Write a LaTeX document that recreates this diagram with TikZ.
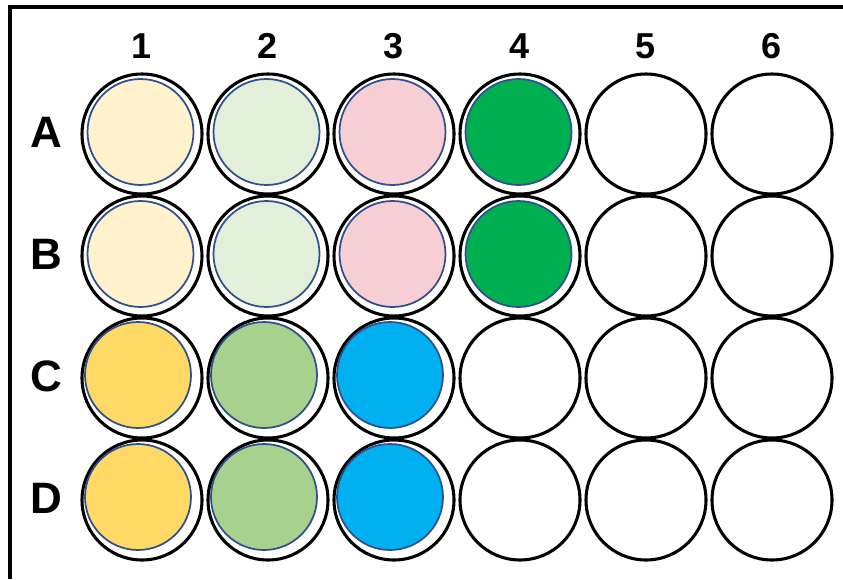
\documentclass[tikz,border=0pt]{standalone}
\usepackage{fontspec}
\setmainfont{Liberation Sans}
\definecolor{paleyellow}{HTML}{FFF2CC}
\definecolor{palegreen}{HTML}{E2EFDA}
\definecolor{palepink}{HTML}{F8CED5}
\definecolor{deepgreen}{HTML}{00B050}
\definecolor{goldyellow}{HTML}{FFD966}
\definecolor{midgreen}{HTML}{A9D18E}
\definecolor{skyblue}{HTML}{00B0F0}
\definecolor{rimblue}{HTML}{2F4F8F}
\begin{document}
\begin{tikzpicture}[x=0.75pt,y=-0.75pt,
  well/.style={circle,draw=black,line width=2.3pt,minimum size=90pt,inner sep=0pt},
  liquid/.style={circle,draw=rimblue,line width=1.3pt,minimum size=79.5pt,inner sep=0pt},
  rowlab/.style={font=\fontsize{33}{36}\selectfont\bfseries},
  collab/.style={font=\fontsize{27}{30}\selectfont\bfseries}]
\useasboundingbox (0,0) rectangle (843,579);
\draw[line width=2.3pt] (843,7) -- (10,7) -- (10,579);
% column and row labels
\foreach \c in {1,...,6}
  \node[collab] (col\c) at ({142+126*(\c-1)},46) {\c};
\foreach \r [count=\j] in {A,B,C,D}
  \node[rowlab] (row\r) at (46,{132+122*(\j-1)}) {\r};
% wells
\foreach \r [count=\j] in {A,B,C,D}
  \foreach \c in {1,...,6}
    \node[well] (\r\c) at ({142+126*(\c-1)},{134+122*(\j-1)}) {};
% filled wells, top two rows sit almost centred
\foreach \w/\col in {A1/paleyellow,A2/palegreen,A3/palepink,A4/deepgreen,
  B1/paleyellow,B2/palegreen,B3/palepink,B4/deepgreen}
  \node[liquid,fill=\col] (\w-in) at ([shift={(-1.5,-2)}]\w.center) {};
\foreach \w/\col in {C1/goldyellow,C2/midgreen,C3/skyblue,
  D1/goldyellow,D2/midgreen,D3/skyblue}
  \node[liquid,fill=\col] (\w-in) at ([shift={(-4,-3)}]\w.center) {};
\end{tikzpicture}
\end{document}
